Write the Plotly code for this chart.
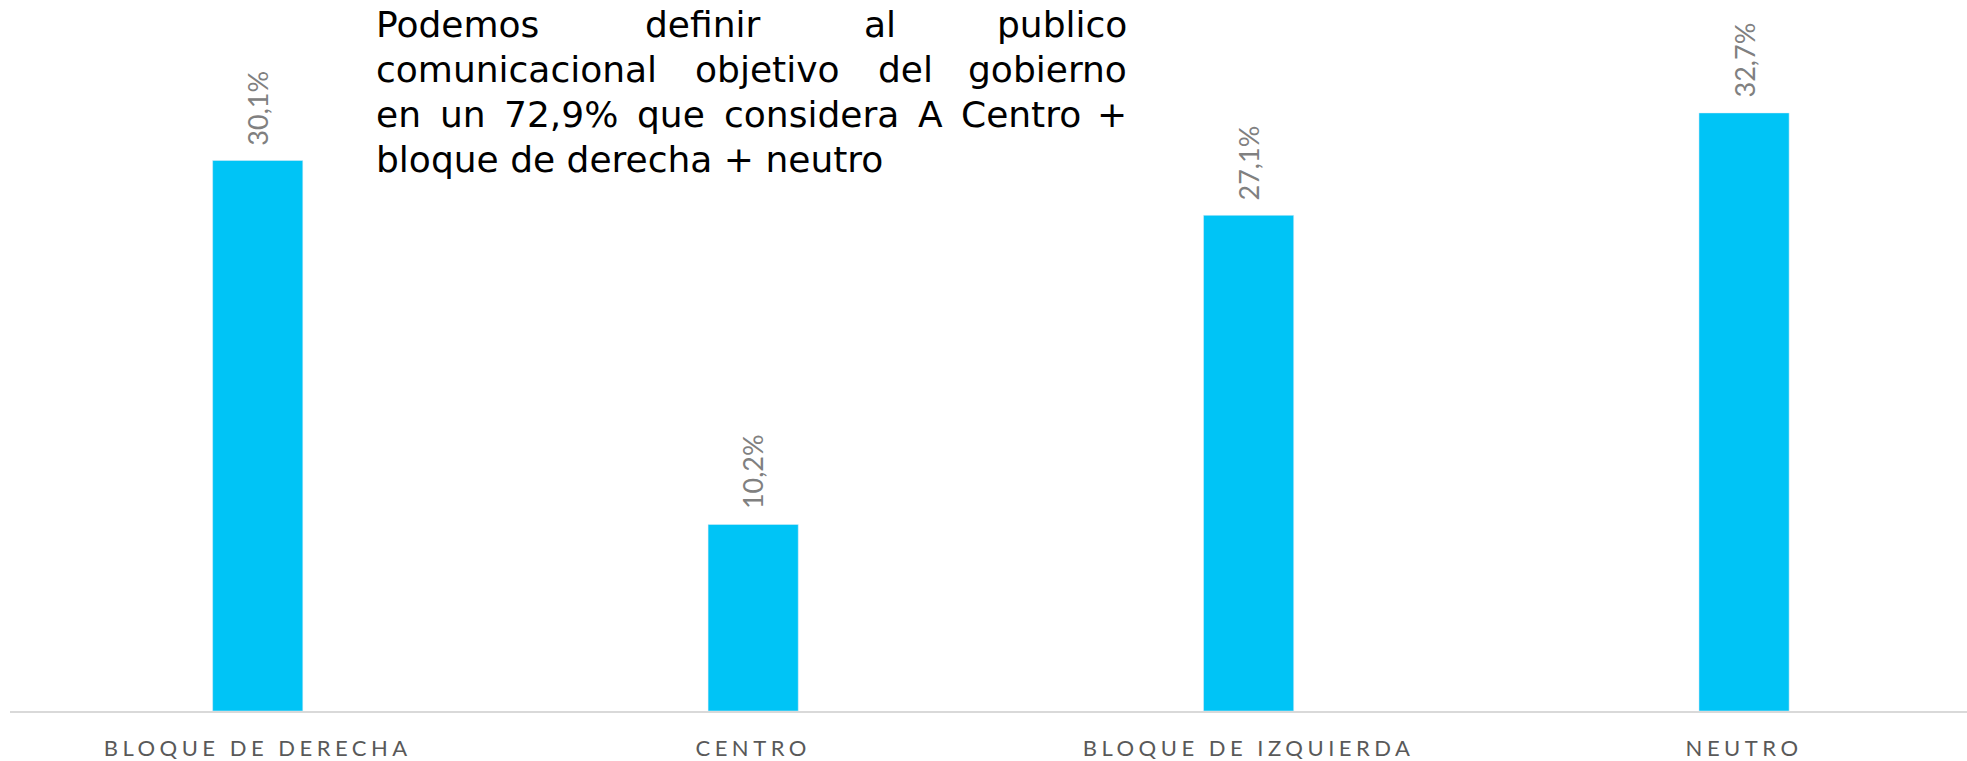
import plotly.graph_objects as go

categories = ["BLOQUE DE DERECHA", "CENTRO", "BLOQUE DE IZQUIERDA", "NEUTRO"]
values = [30.1, 10.2, 27.1, 32.7]
value_labels = ["30,1%", "10,2%", "27,1%", "32,7%"]
note_lines = [
    "Podemos definir al publico",
    "comunicacional objetivo del gobierno",
    "en un 72,9% que considera A Centro +",
    "bloque de derecha + neutro",
]

W, H = 1967, 761
ML, MR, MT, MB = 10, 0, 0, 43
PW, PH = W - ML - MR, H - MT - MB

BAR = "#00C4F6"


def px_to_paper(x, y):
    return (x - ML) / PW, (H - MB - y) / PH


fig = go.Figure()
fig.add_trace(go.Bar(
    x=list(range(len(categories))), y=values, marker_color=BAR,
    width=0.182, hoverinfo="skip",
))

# value labels, rotated
for i, (v, t) in enumerate(zip(values, value_labels)):
    fig.add_annotation(
        x=i, y=v, xref="x", yref="y", text=t, showarrow=False,
        textangle=-90, yanchor="bottom", xanchor="center", yshift=13,
        font=dict(family="Lato", size=27, color="#808080"),
    )

# justified note text (DejaVu Sans advance widths, em)
FS = 36
DV = {" ": .318, "a": .613, "b": .635, "c": .550, "d": .635, "e": .615, "f": .352,
      "g": .635, "h": .634, "i": .278, "j": .278, "l": .278, "m": .974, "n": .634,
      "o": .612, "p": .635, "q": .635, "r": .411, "s": .521, "t": .392, "u": .634,
      "v": .592, "P": .603, "A": .684, "C": .698, ",": .318, "%": .950, "+": .838}


def word_px(w):
    return sum(DV.get(c, .636) for c in w) * FS


x_left, x_right = 374, 1129
line_y = [25, 70, 116, 161]
font_note = dict(family="DejaVu Sans", size=FS, color="#000000")
for li, line in enumerate(note_lines):
    yy = px_to_paper(0, line_y[li])[1]
    if li == len(note_lines) - 1:
        fig.add_annotation(x=px_to_paper(x_left, 0)[0], y=yy, xref="paper", yref="paper",
                           text=line, showarrow=False, xanchor="left", yanchor="middle",
                           font=font_note)
        continue
    words = line.split(" ")
    ws = [word_px(w) for w in words]
    gap = (x_right - x_left - sum(ws)) / (len(words) - 1)
    pos = x_left
    for wi, w in enumerate(words):
        last = wi == len(words) - 1
        fig.add_annotation(x=px_to_paper(x_right if last else pos, 0)[0], y=yy,
                           xref="paper", yref="paper", text=w, showarrow=False,
                           xanchor="right" if last else "left", yanchor="middle",
                           font=font_note)
        pos += ws[wi] + gap

fig.update_layout(
    width=W, height=H, margin=dict(l=ML, r=MR, t=MT, b=MB, pad=0),
    plot_bgcolor="white", paper_bgcolor="white", showlegend=False,
    xaxis=dict(
        range=[-0.5, 3.45], tickmode="array", tickvals=list(range(len(categories))),
        ticktext=categories, showgrid=False, zeroline=False, showline=True,
        linecolor="#D9D9D9", linewidth=2, ticks="",
        tickfont=dict(family="Lato", size=22, color="#595959"),
        ticklabelstandoff=17,
    ),
    yaxis=dict(range=[0, PH / 18.47], visible=False, showgrid=False, zeroline=False),
)

post = (
    "document.body.style.margin='0';"
    "document.querySelectorAll('.xtick text').forEach(function(t){"
    "t.style.letterSpacing='4.5px';});"
)
fig.write_html("out.html", config={"displayModeBar": False}, post_script=post)
